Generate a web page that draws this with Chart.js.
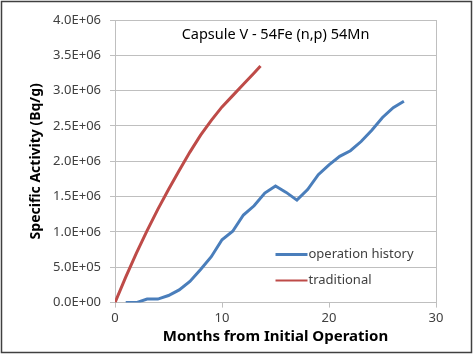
<!DOCTYPE html>
<html>
<head>
<meta charset="utf-8">
<script src="https://cdn.jsdelivr.net/npm/chart.js@4/dist/chart.umd.min.js"></script>
<style>
  body { margin: 0; background: #ffffff; }
  #chart { display: block; }
</style>
</head>
<body>
<canvas id="chart" width="473" height="354"></canvas>
<script>
// chart data
const historyMonths = [1, 2, 3, 4, 5, 6, 7, 8, 9, 10, 11, 12, 13, 14, 15, 16, 17, 18, 19, 20, 21, 22, 23, 24, 25, 26, 27];
const historyValues = [0, 0, 0.05e6, 0.05e6, 0.1e6, 0.18e6, 0.3e6, 0.47e6, 0.65e6, 0.89e6, 1.01e6, 1.24e6, 1.37e6, 1.55e6, 1.65e6,
    1.56e6, 1.45e6, 1.6e6, 1.81e6, 1.95e6, 2.07e6, 2.15e6, 2.28e6, 2.44e6, 2.62e6, 2.76e6, 2.85e6];
const traditionalMonths = [0, 1, 2, 3, 4, 5, 6, 7, 8, 9, 10, 11, 12, 13, 13.6];
const traditionalValues = [0, 0.36e6, 0.7e6, 1.02e6, 1.32e6, 1.6e6, 1.87e6, 2.13e6, 2.37e6, 2.58e6, 2.77e6, 2.93e6, 3.09e6, 3.25e6, 3.35e6];
const seriesNames = ["operation history", "traditional"];
const xTicks = [0, 10, 20, 30];
const yTicks = [0, 0.5e6, 1e6, 1.5e6, 2e6, 2.5e6, 3e6, 3.5e6, 4e6];

const chartTitle = "Capsule V - 54Fe (n,p) 54Mn";
const FONT = "'Noto Sans', 'Open Sans', sans-serif";
const GRID = "#bfbfbf";
const TEXT = "#404040";

function sciLabel(v) {
    if (v === 0) return "0.0E+00";
    const exp = Math.floor(Math.log10(Math.abs(v)));
    const mant = v / Math.pow(10, exp);
    const e = (exp < 10 ? "0" : "") + exp;
    return mant.toFixed(1) + "E+" + e;
}

function toPoints(xs, ys) {
    return xs.map((x, i) => ({ x: x, y: ys[i] }));
}

// outer frame, plot border, title and legend
const decorPlugin = {
    id: "decor",
    beforeDraw(chart) {
        const ctx = chart.ctx;
        ctx.save();
        ctx.fillStyle = "#ffffff";
        ctx.fillRect(0, 0, chart.width, chart.height);
        ctx.restore();
    },
    afterDraw(chart) {
        const ctx = chart.ctx;
        const a = chart.chartArea;
        ctx.save();

        ctx.strokeStyle = GRID;
        ctx.lineWidth = 1;
        ctx.beginPath();
        ctx.moveTo(a.right + 0.5, a.top);
        ctx.lineTo(a.right + 0.5, a.bottom);
        ctx.stroke();

        ctx.strokeStyle = "#404040";
        ctx.lineWidth = 1.5;
        ctx.strokeRect(1.5, 1.5, chart.width - 3, chart.height - 3);

        ctx.fillStyle = "#000000";
        ctx.font = "14.5px " + FONT;
        ctx.textAlign = "center";
        ctx.textBaseline = "middle";
        ctx.fillText(chartTitle, (a.left + a.right) / 2, a.top + 15);

        const lx = a.left + (a.right - a.left) * 0.5;
        const ly = a.top + (a.bottom - a.top) * 0.83;
        ctx.font = "13px " + FONT;
        ctx.textAlign = "left";
        chart.data.datasets.forEach((ds, i) => {
            const y = ly + i * 26;
            ctx.strokeStyle = ds.borderColor;
            ctx.lineWidth = i === 0 ? 3 : 2;
            ctx.beginPath();
            ctx.moveTo(lx, y);
            ctx.lineTo(lx + 32, y);
            ctx.stroke();
            ctx.fillStyle = TEXT;
            ctx.fillText(ds.label, lx + 33, y);
        });
        ctx.restore();
    }
};

const ctx = document.getElementById("chart").getContext("2d");
new Chart(ctx, {
    type: "line",
    data: {
        datasets: [{
            label: seriesNames[0],
            data: toPoints(historyMonths, historyValues),
            borderColor: "#4a7ebb",
            borderWidth: 3,
            pointRadius: 0,
            tension: 0,
            fill: false
        }, {
            label: seriesNames[1],
            data: toPoints(traditionalMonths, traditionalValues),
            borderColor: "#be4b48",
            borderWidth: 3,
            pointRadius: 0,
            tension: 0,
            fill: false
        }]
    },
    options: {
        responsive: false,
        animation: false,
        layout: { padding: { left: 0, top: 20, right: 37, bottom: 0 } },
        plugins: {
            legend: { display: false },
            tooltip: { enabled: false }
        },
        scales: {
            x: {
                type: "linear",
                min: 0,
                max: 30,
                afterBuildTicks: (scale) => { scale.ticks = xTicks.map(v => ({ value: v })); },
                afterFit: (scale) => { scale.height = 51.4; },
                grid: { drawOnChartArea: false, drawTicks: true, tickLength: 5, color: GRID },
                border: { color: GRID },
                ticks: { color: TEXT, font: { family: FONT, size: 13 }, padding: 3 },
                title: {
                    display: true,
                    text: "Months from Initial Operation",
                    color: "#000000",
                    font: { family: FONT, size: 15, weight: "bold" },
                    padding: { top: 0, bottom: 8 }
                }
            },
            y: {
                min: 0,
                max: 4e6,
                afterBuildTicks: (scale) => { scale.ticks = yTicks.map(v => ({ value: v })); },
                afterFit: (scale) => { scale.width = 115; },
                grid: { color: GRID, tickLength: 5 },
                border: { color: GRID },
                ticks: {
                    color: TEXT,
                    font: { family: FONT, size: 13 },
                    padding: 9,
                    callback: (v) => sciLabel(v)
                },
                title: {
                    display: true,
                    text: "Specific Activity (Bq/g)",
                    color: "#000000",
                    font: { family: FONT, size: 14, weight: "bold" },
                    padding: { top: 28, bottom: 0 }
                }
            }
        }
    },
    plugins: [decorPlugin]
});
</script>
</body>
</html>
